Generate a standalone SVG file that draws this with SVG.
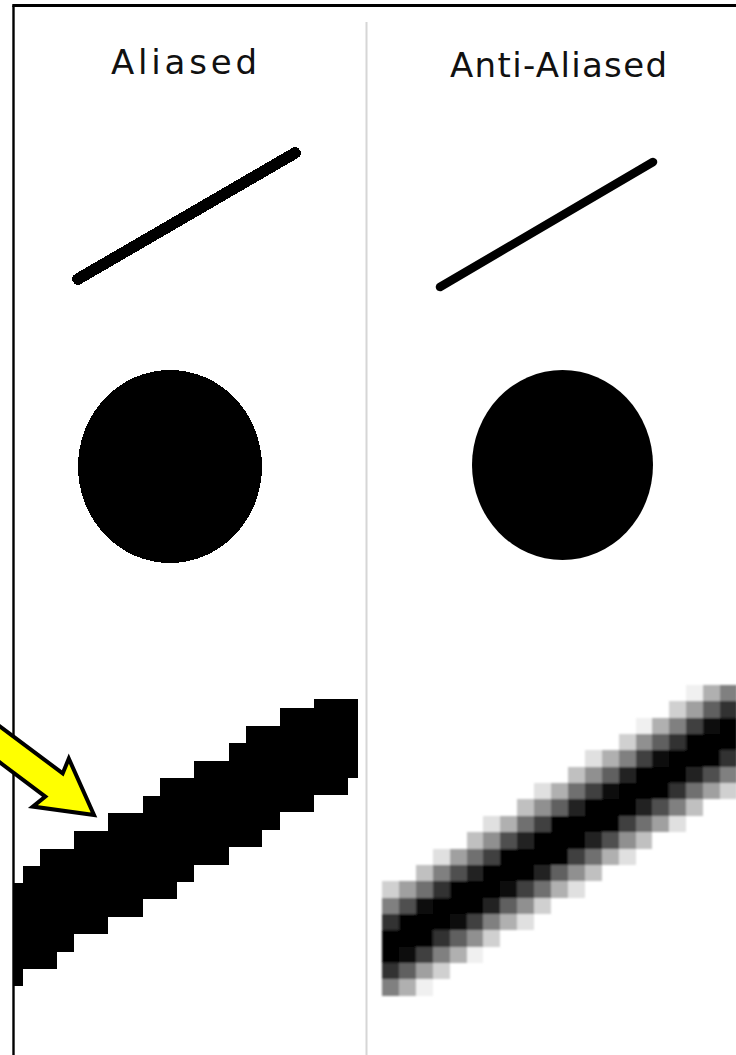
<svg xmlns="http://www.w3.org/2000/svg" width="736" height="1055" viewBox="0 0 736 1055">
<style>
.title{font-family:"DejaVu Sans","Liberation Sans",sans-serif;font-size:34px;fill:#111}
.k0{fill:#000}.k1{fill:#101010}.k2{fill:#202020}.k3{fill:#303030}.k4{fill:#404040}.k5{fill:#505050}.k6{fill:#606060}.k7{fill:#707070}
.k8{fill:#808080}.k9{fill:#909090}.k10{fill:#a0a0a0}.k11{fill:#b0b0b0}.k12{fill:#c0c0c0}.k13{fill:#d0d0d0}.k14{fill:#e0e0e0}.k15{fill:#f0f0f0}
</style>
<defs>
<filter id="soft" x="-5%" y="-5%" width="110%" height="110%"><feGaussianBlur stdDeviation="0.9"/></filter>
</defs>
<rect width="736" height="1055" fill="#fff"/>
<g id="frame">
<line x1="13.5" y1="5.5" x2="13.5" y2="1055" stroke="#000" stroke-width="2.4"/>
<line x1="12.3" y1="5.5" x2="736" y2="5.5" stroke="#000" stroke-width="3"/>
<line x1="366.5" y1="22" x2="366.5" y2="1055" stroke="#d6d6d6" stroke-width="2"/>
</g>
<g id="titles">
<text class="title" x="111" y="74" textLength="146" lengthAdjust="spacing" font-size="35">Aliased</text>
<text class="title" x="450" y="77" textLength="217" lengthAdjust="spacing">Anti-Aliased</text>
</g>
<g id="aliased-line"><line x1="78" y1="279" x2="295" y2="153" stroke="#000" stroke-width="11.5" stroke-linecap="round" shape-rendering="crispEdges"/></g>
<g id="aa-line"><line x1="440" y1="287" x2="653" y2="162" stroke="#000" stroke-width="8.5" stroke-linecap="round"/></g>
<g id="aliased-circle"><ellipse cx="170" cy="466.5" rx="92" ry="96.5" fill="#000" shape-rendering="crispEdges"/></g>
<g id="aa-circle"><ellipse cx="562.5" cy="465" rx="90.5" ry="95" fill="#000"/></g>
<g id="aliased-zoom">
<polygon fill="#000" shape-rendering="crispEdges" points="358,699 358,777.6 348,777.6 348,795 314,795 314,812.4 280,812.4 280,829.8 262,829.8 262,847.2 229,847.2 229,864.6 194,864.6 194,882 177,882 177,899.4 143,899.4 143,916.8 108,916.8 108,934.2 74,934.2 74,951.6 57,951.6 57,969 23,969 23,986.4 13,986.4 13,883 23,883 23,866 40,866 40,849 74,849 74,831 108,831 108,813 143,813 143,796 160,796 160,778 194,778 194,761 229,761 229,743 246,743 246,726 280,726 280,708 314,708 314,699"/>
</g>
<g filter="url(#soft)">
<g id="aa-zoom" transform="translate(382 685) scale(16.9 16.35)" shape-rendering="crispEdges">
<rect class="k0" x="0" y="15" width="1" height="2"/><rect class="k0" x="1" y="14" width="1" height="2"/><rect class="k0" x="2" y="14" width="1" height="2"/>
<rect class="k0" x="3" y="13" width="1" height="2"/><rect class="k0" x="4" y="12" width="1" height="2"/><rect class="k0" x="5" y="12" width="1" height="2"/>
<rect class="k0" x="6" y="11" width="1" height="2"/><rect class="k0" x="7" y="10" width="1" height="2"/><rect class="k0" x="8" y="10" width="1" height="2"/>
<rect class="k0" x="9" y="9" width="1" height="2"/><rect class="k0" x="10" y="8" width="1" height="3"/><rect class="k0" x="11" y="8" width="1" height="2"/>
<rect class="k0" x="12" y="7" width="1" height="2"/><rect class="k0" x="13" y="7" width="1" height="2"/><rect class="k0" x="14" y="6" width="1" height="2"/>
<rect class="k0" x="15" y="5" width="1" height="2"/><rect class="k0" x="16" y="5" width="1" height="2"/><rect class="k0" x="17" y="4" width="1" height="2"/>
<rect class="k0" x="18" y="3" width="1" height="2"/><rect class="k0" x="19" y="3" width="1" height="2"/><rect class="k0" x="20" y="2" width="1" height="2"/>
<rect class="k13" x="0" y="12" width="1" height="1"/><rect class="k8" x="0" y="13" width="1" height="1"/><rect class="k3" x="0" y="14" width="1" height="1"/><rect class="k3" x="0" y="17" width="1" height="1"/><rect class="k8" x="0" y="18" width="1" height="1"/>
<rect class="k10" x="1" y="12" width="1" height="1"/><rect class="k5" x="1" y="13" width="1" height="1"/><rect class="k1" x="1" y="16" width="1" height="1"/><rect class="k6" x="1" y="17" width="1" height="1"/><rect class="k11" x="1" y="18" width="1" height="1"/>
<rect class="k12" x="2" y="11" width="1" height="1"/><rect class="k7" x="2" y="12" width="1" height="1"/><rect class="k1" x="2" y="13" width="1" height="1"/><rect class="k4" x="2" y="16" width="1" height="1"/><rect class="k10" x="2" y="17" width="1" height="1"/><rect class="k15" x="2" y="18" width="1" height="1"/>
<rect class="k14" x="3" y="10" width="1" height="1"/><rect class="k8" x="3" y="11" width="1" height="1"/><rect class="k3" x="3" y="12" width="1" height="1"/><rect class="k3" x="3" y="15" width="1" height="1"/><rect class="k8" x="3" y="16" width="1" height="1"/><rect class="k13" x="3" y="17" width="1" height="1"/>
<rect class="k10" x="4" y="10" width="1" height="1"/><rect class="k5" x="4" y="11" width="1" height="1"/><rect class="k1" x="4" y="14" width="1" height="1"/><rect class="k6" x="4" y="15" width="1" height="1"/><rect class="k11" x="4" y="16" width="1" height="1"/>
<rect class="k12" x="5" y="9" width="1" height="1"/><rect class="k7" x="5" y="10" width="1" height="1"/><rect class="k2" x="5" y="11" width="1" height="1"/><rect class="k4" x="5" y="14" width="1" height="1"/><rect class="k9" x="5" y="15" width="1" height="1"/><rect class="k15" x="5" y="16" width="1" height="1"/>
<rect class="k14" x="6" y="8" width="1" height="1"/><rect class="k9" x="6" y="9" width="1" height="1"/><rect class="k4" x="6" y="10" width="1" height="1"/><rect class="k2" x="6" y="13" width="1" height="1"/><rect class="k8" x="6" y="14" width="1" height="1"/><rect class="k13" x="6" y="15" width="1" height="1"/>
<rect class="k11" x="7" y="8" width="1" height="1"/><rect class="k5" x="7" y="9" width="1" height="1"/><rect class="k1" x="7" y="12" width="1" height="1"/><rect class="k6" x="7" y="13" width="1" height="1"/><rect class="k11" x="7" y="14" width="1" height="1"/>
<rect class="k12" x="8" y="7" width="1" height="1"/><rect class="k7" x="8" y="8" width="1" height="1"/><rect class="k2" x="8" y="9" width="1" height="1"/><rect class="k4" x="8" y="12" width="1" height="1"/><rect class="k9" x="8" y="13" width="1" height="1"/><rect class="k14" x="8" y="14" width="1" height="1"/>
<rect class="k14" x="9" y="6" width="1" height="1"/><rect class="k9" x="9" y="7" width="1" height="1"/><rect class="k4" x="9" y="8" width="1" height="1"/><rect class="k2" x="9" y="11" width="1" height="1"/><rect class="k7" x="9" y="12" width="1" height="1"/><rect class="k13" x="9" y="13" width="1" height="1"/>
<rect class="k11" x="10" y="6" width="1" height="1"/><rect class="k6" x="10" y="7" width="1" height="1"/><rect class="k6" x="10" y="11" width="1" height="1"/><rect class="k11" x="10" y="12" width="1" height="1"/>
<rect class="k12" x="11" y="5" width="1" height="1"/><rect class="k7" x="11" y="6" width="1" height="1"/><rect class="k2" x="11" y="7" width="1" height="1"/><rect class="k4" x="11" y="10" width="1" height="1"/><rect class="k9" x="11" y="11" width="1" height="1"/><rect class="k14" x="11" y="12" width="1" height="1"/>
<rect class="k14" x="12" y="4" width="1" height="1"/><rect class="k9" x="12" y="5" width="1" height="1"/><rect class="k4" x="12" y="6" width="1" height="1"/><rect class="k2" x="12" y="9" width="1" height="1"/><rect class="k7" x="12" y="10" width="1" height="1"/><rect class="k12" x="12" y="11" width="1" height="1"/>
<rect class="k11" x="13" y="4" width="1" height="1"/><rect class="k6" x="13" y="5" width="1" height="1"/><rect class="k1" x="13" y="6" width="1" height="1"/><rect class="k5" x="13" y="9" width="1" height="1"/><rect class="k11" x="13" y="10" width="1" height="1"/>
<rect class="k13" x="14" y="3" width="1" height="1"/><rect class="k8" x="14" y="4" width="1" height="1"/><rect class="k2" x="14" y="5" width="1" height="1"/><rect class="k4" x="14" y="8" width="1" height="1"/><rect class="k9" x="14" y="9" width="1" height="1"/><rect class="k14" x="14" y="10" width="1" height="1"/>
<rect class="k15" x="15" y="2" width="1" height="1"/><rect class="k9" x="15" y="3" width="1" height="1"/><rect class="k4" x="15" y="4" width="1" height="1"/><rect class="k2" x="15" y="7" width="1" height="1"/><rect class="k7" x="15" y="8" width="1" height="1"/><rect class="k12" x="15" y="9" width="1" height="1"/>
<rect class="k11" x="16" y="2" width="1" height="1"/><rect class="k6" x="16" y="3" width="1" height="1"/><rect class="k1" x="16" y="4" width="1" height="1"/><rect class="k5" x="16" y="7" width="1" height="1"/><rect class="k10" x="16" y="8" width="1" height="1"/>
<rect class="k13" x="17" y="1" width="1" height="1"/><rect class="k8" x="17" y="2" width="1" height="1"/><rect class="k3" x="17" y="3" width="1" height="1"/><rect class="k3" x="17" y="6" width="1" height="1"/><rect class="k8" x="17" y="7" width="1" height="1"/><rect class="k14" x="17" y="8" width="1" height="1"/>
<rect class="k15" x="18" y="0" width="1" height="1"/><rect class="k10" x="18" y="1" width="1" height="1"/><rect class="k4" x="18" y="2" width="1" height="1"/><rect class="k2" x="18" y="5" width="1" height="1"/><rect class="k7" x="18" y="6" width="1" height="1"/><rect class="k12" x="18" y="7" width="1" height="1"/>
<rect class="k11" x="19" y="0" width="1" height="1"/><rect class="k6" x="19" y="1" width="1" height="1"/><rect class="k1" x="19" y="2" width="1" height="1"/><rect class="k5" x="19" y="5" width="1" height="1"/><rect class="k10" x="19" y="6" width="1" height="1"/>
<rect class="k8" x="20" y="0" width="1" height="1"/><rect class="k3" x="20" y="1" width="1" height="1"/><rect class="k3" x="20" y="4" width="1" height="1"/><rect class="k8" x="20" y="5" width="1" height="1"/><rect class="k13" x="20" y="6" width="1" height="1"/>
</g>
</g>
<g id="pointer-arrow">
<polygon points="-10,718.9 62.7,773.4 68.8,758.6 94,815 32.8,806.6 45.3,796.6 -10,755.1" fill="#ffff00" stroke="#000" stroke-width="4" stroke-linejoin="miter"/>
</g>
</svg>
